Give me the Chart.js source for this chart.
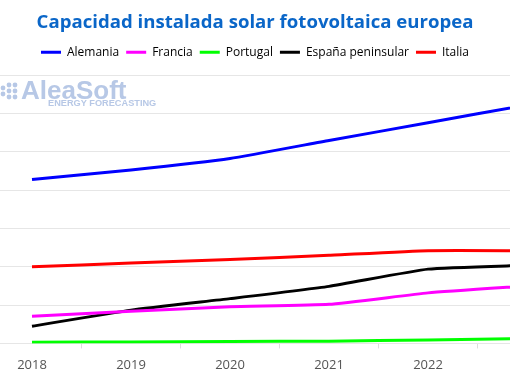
<!DOCTYPE html>
<html><head><meta charset="utf-8">
<script src="https://cdn.jsdelivr.net/npm/chart.js@4/dist/chart.umd.min.js"></script>
<style>html,body{margin:0;padding:0;background:#fff;}#wrap{width:510px;height:382px;position:relative;}</style>
</head><body><div id="wrap"><canvas id="c" width="510" height="382"></canvas></div>
<script>
const years = [2018, 2019, 2020, 2021, 2022, 2023];
const alemania = [42.8, 45.3, 48.3, 53.0, 57.6, 62.3];
const francia = [7.1, 8.4, 9.6, 10.2, 13.2, 15.0];
const portugal = [0.3, 0.4, 0.5, 0.6, 0.9, 1.3];
const espana = [4.5, 8.7, 11.7, 14.9, 19.4, 20.4];
const italia = [20.0, 21.0, 21.9, 23.0, 24.2, 24.2];
const seriesNames = ['Alemania', 'Francia', 'Portugal', 'España peninsular', 'Italia'];
const seriesColors = ['#0000ff', '#ff00ff', '#00ff00', '#000000', '#ff0000'];
const xTickValues = [2018, 2018.5, 2019, 2019.5, 2020, 2020.5, 2021, 2021.5, 2022, 2022.5];

const allSeries = [alemania, francia, portugal, espana, italia];
const datasets = allSeries.map((vals, i) => ({
  label: seriesNames[i],
  data: vals.map((v, k) => ({x: years[k], y: v})),
  borderColor: seriesColors[i],
  backgroundColor: seriesColors[i],
  borderWidth: 3,
  pointRadius: 0,
  tension: 0.15,
  fill: false
}));

const watermark = {
  id: 'watermark',
  beforeDatasetsDraw(chart) {
    const ctx = chart.ctx;
    ctx.save();
    ctx.fillStyle = '#b7c8e6';
    const dots = [[3,88],[9,85],[15,85],[9,91],[15,91],[15,97],[9,97],[3,94]];
    dots.forEach(d => { ctx.beginPath(); ctx.arc(d[0], d[1], 2.4, 0, Math.PI*2); ctx.fill(); });
    ctx.font = 'bold 26px "Liberation Sans", Arial, sans-serif';
    ctx.textBaseline = 'alphabetic';
    ctx.fillText('AleaSoft', 21, 99);
    ctx.font = 'bold 9.2px "Liberation Sans", Arial, sans-serif';
    ctx.fillText('ENERGY FORECASTING', 48, 106);
    ctx.restore();
  }
};

new Chart(document.getElementById('c'), {
  type: 'line',
  data: { datasets },
  plugins: [watermark],
  options: {
    responsive: false,
    animation: false,
    layout: { padding: { left: 0, right: 0, top: 4, bottom: 0 } },
    plugins: {
      title: {
        display: true,
        text: 'Capacidad instalada solar fotovoltaica europea',
        color: '#0a66c8',
        font: { family: '"Open Sans", Roboto, sans-serif', size: 18.6, weight: 'bold' },
        padding: { top: 8, bottom: 5 }
      },
      legend: {
        display: true,
        labels: {
          color: '#444',
          font: { family: '"Open Sans", Roboto, sans-serif', size: 12 },
          boxWidth: 20,
          boxHeight: 3,
          padding: 7,
          generateLabels(chart) {
            return chart.data.datasets.map((d, i) => ({
              text: d.label, fillStyle: d.borderColor, strokeStyle: d.borderColor,
              lineWidth: 0, hidden: false, datasetIndex: i
            }));
          }
        }
      },
      tooltip: { enabled: false }
    },
    scales: {
      x: {
        type: 'linear',
        min: 2018 - 32/99,
        max: 2018 - 32/99 + 510/99,
        afterBuildTicks(scale) { scale.ticks = xTickValues.map(v => ({value: v})); },
        ticks: {
          autoSkip: false, maxRotation: 0, color: '#555',
          font: { family: '"Open Sans", Roboto, sans-serif', size: 13, lineHeight: 1.12 },
          padding: 9.5,
          callback(v) { return Number.isInteger(v) ? String(v) : ''; }
        },
        grid: {
          drawOnChartArea: false, drawTicks: true, tickLength: 5,
          tickColor(ctx) { return (ctx.tick && !Number.isInteger(ctx.tick.value)) ? '#dddddd' : 'rgba(0,0,0,0)'; }
        },
        border: { display: true, color: '#e6e6e6' }
      },
      spacer: {
        type: 'linear', position: 'top', display: true,
        ticks: { display: false }, grid: { display: false, drawTicks: false }, border: { display: false },
        afterFit(scale) { scale.height = 7; }
      },
      y: {
        min: 0, max: 70,
        ticks: { display: false, stepSize: 10 },
        grid: { color: '#e6e6e6', drawTicks: false },
        border: { display: false },
        afterFit(scale) { scale.width = 0; }
      }
    }
  }
});
</script></body></html>
